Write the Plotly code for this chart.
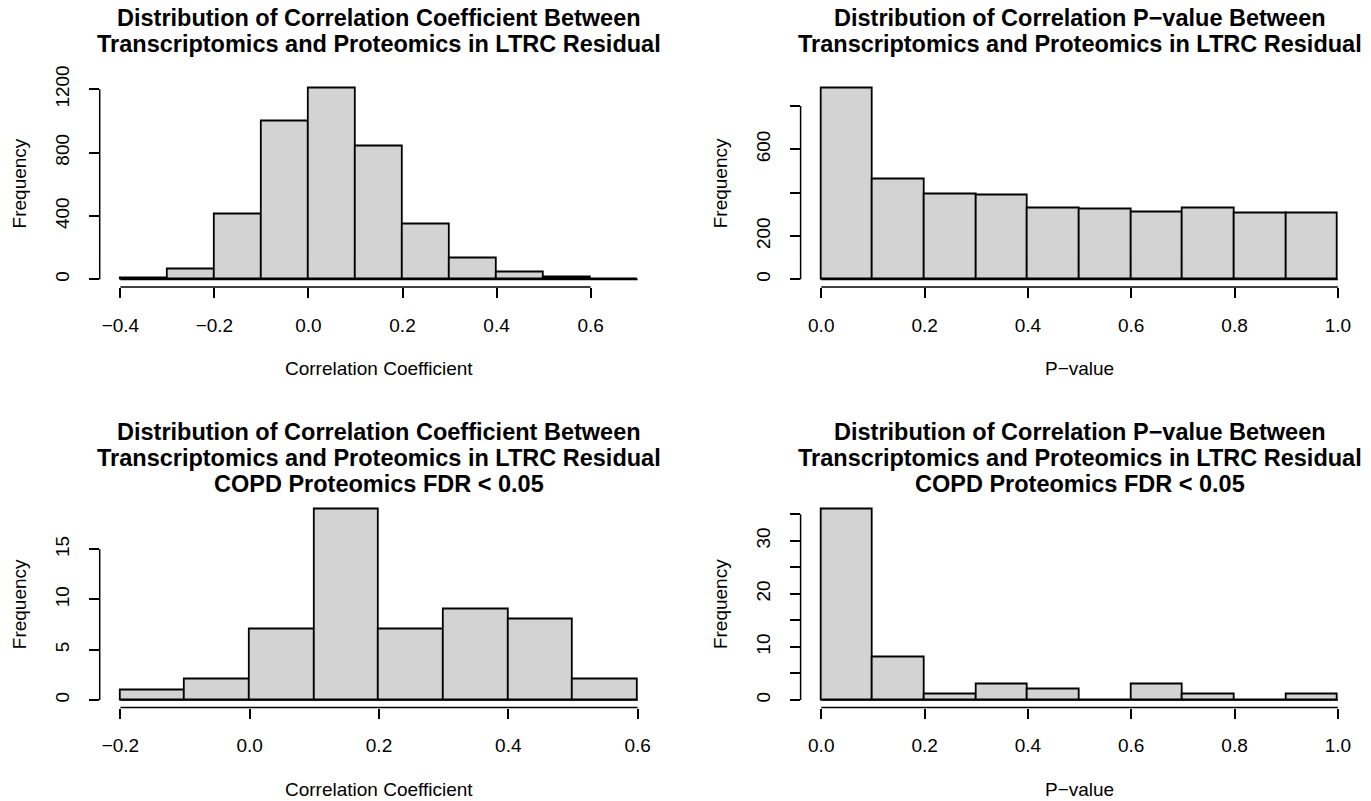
import plotly.graph_objects as go
from plotly.subplots import make_subplots

# ---------------- data ----------------
# Panel A: correlation coefficient (all)
a_edges_start = -0.4
a_bin_width = 0.1
a_counts = [6, 63, 408, 996, 1208, 842, 347, 133, 42, 13, 2]
a_xticks = [-0.4, -0.2, 0.0, 0.2, 0.4, 0.6]
a_xticklabels = ["\u22120.4", "\u22120.2", "0.0", "0.2", "0.4", "0.6"]
a_yticks = [0, 400, 800, 1200]
a_yticklabels = ["0", "400", "800", "1200"]

# Panel B: p-value (all)
b_edges_start = 0.0
b_bin_width = 0.1
b_counts = [883, 462, 394, 389, 329, 325, 311, 329, 305, 305]
b_xticks = [0.0, 0.2, 0.4, 0.6, 0.8, 1.0]
b_xticklabels = ["0.0", "0.2", "0.4", "0.6", "0.8", "1.0"]
b_yticks = [0, 200, 400, 600, 800]
b_yticklabels = ["0", "200", "", "600", ""]

# Panel C: correlation coefficient (COPD proteomics FDR < 0.05)
c_edges_start = -0.2
c_bin_width = 0.1
c_counts = [1, 2, 7, 19, 7, 9, 8, 2]
c_xticks = [-0.2, 0.0, 0.2, 0.4, 0.6]
c_xticklabels = ["\u22120.2", "0.0", "0.2", "0.4", "0.6"]
c_yticks = [0, 5, 10, 15]
c_yticklabels = ["0", "5", "10", "15"]

# Panel D: p-value (COPD proteomics FDR < 0.05)
d_edges_start = 0.0
d_bin_width = 0.1
d_counts = [36, 8, 1, 3, 2, 0, 3, 1, 0, 1]
d_xticks = [0.0, 0.2, 0.4, 0.6, 0.8, 1.0]
d_xticklabels = ["0.0", "0.2", "0.4", "0.6", "0.8", "1.0"]
d_yticks = [0, 5, 10, 15, 20, 25, 30, 35]
d_yticklabels = ["0", "", "10", "", "20", "", "30", ""]

title_coef = ["Distribution of Correlation Coefficient Between",
              "Transcriptomics and Proteomics in LTRC Residual"]
title_pval = ["Distribution of Correlation P\u2212value Between",
              "Transcriptomics and Proteomics in LTRC Residual"]
title_sub = "COPD Proteomics FDR &lt; 0.05"
xlab_coef = "Correlation Coefficient"
xlab_pval = "P\u2212value"
ylab = "Frequency"

# ---------------- layout helpers ----------------
W, H = 1371, 801
FONT = "Liberation Sans, Arial, Helvetica, sans-serif"
BAR_FILL = "#D3D3D3"
LW = 1.8

def px_x(p):
    return p / W

def px_y(p):
    return 1 - p / H

col_dom = {1: (99.7, 658.3), 2: (800.6, 1358.5)}
row_dom = {1: (80.4, 287.0), 2: (501.4, 707.6)}

panels = [
    dict(row=1, col=1, start=a_edges_start, bw=a_bin_width, counts=a_counts,
         xt=a_xticks, xtl=a_xticklabels, yt=a_yticks, ytl=a_yticklabels,
         title=title_coef, xlab=xlab_coef),
    dict(row=1, col=2, start=b_edges_start, bw=b_bin_width, counts=b_counts,
         xt=b_xticks, xtl=b_xticklabels, yt=b_yticks, ytl=b_yticklabels,
         title=title_pval, xlab=xlab_pval),
    dict(row=2, col=1, start=c_edges_start, bw=c_bin_width, counts=c_counts,
         xt=c_xticks, xtl=c_xticklabels, yt=c_yticks, ytl=c_yticklabels,
         title=title_coef + [title_sub], xlab=xlab_coef),
    dict(row=2, col=2, start=d_edges_start, bw=d_bin_width, counts=d_counts,
         xt=d_xticks, xtl=d_xticklabels, yt=d_yticks, ytl=d_yticklabels,
         title=title_pval + [title_sub], xlab=xlab_pval),
]

fig = make_subplots(rows=2, cols=2)
annotations = []
shapes = []

for i, p in enumerate(panels):
    n = len(p["counts"])
    edges = [p["start"] + k * p["bw"] for k in range(n + 1)]
    centers = [(edges[k] + edges[k + 1]) / 2 for k in range(n)]
    fig.add_trace(go.Bar(x=centers, y=p["counts"], width=p["bw"],
                         marker=dict(color=BAR_FILL, line=dict(color="black", width=LW)),
                         showlegend=False, hoverinfo="x+y"),
                  row=p["row"], col=p["col"])
    # baseline of the histogram (zero-height bins)
    fig.add_trace(go.Scatter(x=[edges[0], edges[-1]], y=[0, 0], mode="lines",
                             line=dict(color="black", width=LW),
                             showlegend=False, hoverinfo="skip"),
                  row=p["row"], col=p["col"])

    lo, hi = edges[0], edges[-1]
    ext = 0.04 * (hi - lo)
    ymax = max(p["counts"])
    ax_id = i + 1
    xname = "xaxis" if ax_id == 1 else f"xaxis{ax_id}"
    yname = "yaxis" if ax_id == 1 else f"yaxis{ax_id}"
    xr = "x" if ax_id == 1 else f"x{ax_id}"
    yr = "y" if ax_id == 1 else f"y{ax_id}"
    cd = col_dom[p["col"]]
    rd = row_dom[p["row"]]
    fig.layout[xname].update(
        domain=[px_x(cd[0]), px_x(cd[1])], range=[lo - ext, hi + ext],
        tickmode="array", tickvals=p["xt"], ticktext=p["xtl"],
        ticks="outside", ticklen=10, tickwidth=1.5, tickcolor="black",
        ticklabelstandoff=11, automargin=False,
        showline=False, showgrid=False, zeroline=False, fixedrange=True,
        tickfont=dict(family=FONT, size=19, color="black"))
    fig.layout[yname].update(
        domain=[px_y(rd[1]), px_y(rd[0])], range=[-0.04 * ymax, 1.04 * ymax],
        tickmode="array", tickvals=p["yt"], ticktext=p["ytl"],
        ticks="outside", ticklen=10, tickwidth=1.5, tickcolor="black",
        tickangle=-90, ticklabelstandoff=12, automargin=False,
        showline=False, showgrid=False, zeroline=False, fixedrange=True,
        tickfont=dict(family=FONT, size=19, color="black"))
    # R-style axis lines spanning first to last tick
    shapes.append(dict(type="line", xref=xr, yref=f"{yr} domain",
                       x0=p["xt"][0], x1=p["xt"][-1], y0=0, y1=0,
                       line=dict(color="black", width=1.5)))
    shapes.append(dict(type="line", xref=f"{xr} domain", yref=yr,
                       x0=0, x1=0, y0=p["yt"][0], y1=p["yt"][-1],
                       line=dict(color="black", width=1.5)))

    cx = (cd[0] + cd[1]) / 2
    # titles
    if p["row"] == 1:
        ys = [18, 44]
    else:
        ys = [432, 458, 484]
    for line, yy in zip(p["title"], ys):
        annotations.append(dict(text=f"<b>{line}</b>", x=px_x(cx), y=px_y(yy),
                                xref="paper", yref="paper", showarrow=False,
                                xanchor="center", yanchor="middle",
                                font=dict(family=FONT, size=23.5, color="black")))
    # x label
    xlab_y = 368 if p["row"] == 1 else 789
    annotations.append(dict(text=p["xlab"], x=px_x(cx), y=px_y(xlab_y),
                            xref="paper", yref="paper", showarrow=False,
                            xanchor="center", yanchor="middle",
                            font=dict(family=FONT, size=19, color="black")))
    # y label
    cy = (rd[0] + rd[1]) / 2
    annotations.append(dict(text=ylab, x=px_x(cd[0] - 80), y=px_y(cy),
                            xref="paper", yref="paper", showarrow=False,
                            xanchor="center", yanchor="middle", textangle=-90,
                            font=dict(family=FONT, size=19, color="black")))

fig.update_layout(width=W, height=H,
                  margin=dict(l=0, r=0, t=0, b=0, pad=0, autoexpand=False),
                  paper_bgcolor="white", plot_bgcolor="white",
                  bargap=0, showlegend=False,
                  annotations=annotations, shapes=shapes,
                  font=dict(family=FONT, color="black"))

fig.write_html("out.html", config={"displayModeBar": False},
               post_script="document.body.style.margin='0';document.body.style.overflow='hidden';")
